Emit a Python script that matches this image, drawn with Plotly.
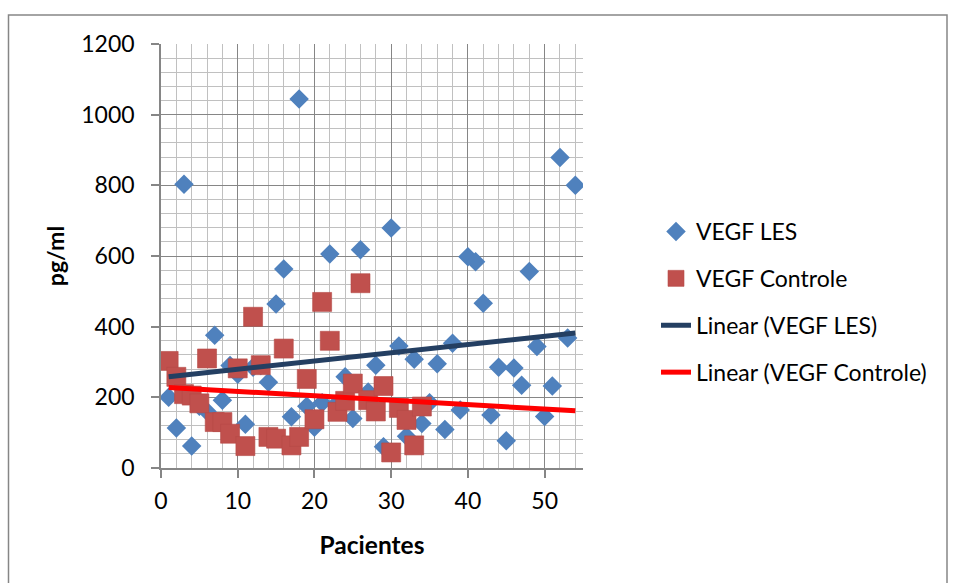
import numpy as np
import plotly.graph_objects as go

# ---------------- data ----------------
les_patients = list(range(1, 55))
les_values = [200, 113, 803, 62, 175, 160, 376, 192, 290, 265,
              124, 285, 290, 243, 464, 563, 145, 1044, 175, 115,
              185, 606, 185, 258, 140, 618, 215, 291, 60, 679,
              345, 90, 308, 126, 185, 295, 109, 353, 164, 598,
              584, 466, 150, 285, 77, 283, 234, 556, 344, 146,
              232, 879, 368, 800]

ctrl_patients = list(range(1, 35))
ctrl_values = [303, 258, 209, 205, 183, 310, 130, 130, 97, 282,
               62, 428, 291, 88, 83, 338, 64, 88, 252, 138,
               470, 360, 159, 190, 239, 523, 192, 160, 232, 44,
               170, 136, 64, 174]

trend_range = [1, 54]
x_tickvals = [0, 10, 20, 30, 40, 50]
y_tickvals = [0, 200, 400, 600, 800, 1000, 1200]

# ---------------- layout geometry ----------------
W, H = 955, 583
L, R, T, B = 161, 372, 44, 115
PW, PH = W - L - R, H - T - B

def px_x(p):
    return (p - L) / PW

def px_y(p):
    return (H - B - p) / PH

FONT = "Lato"
AXIS_GRAY = "#868686"
MINOR_GRAY = "#C0C0C0"

les_fit = np.polyfit(les_patients, les_values, 1)
ctrl_fit = np.polyfit(ctrl_patients, ctrl_values, 1)

fig = go.Figure()
fig.add_trace(go.Scatter(
    x=les_patients, y=les_values, mode="markers", name="VEGF LES",
    legendgroup="a",
    marker=dict(symbol="diamond", size=15, color="#4F81BD", line=dict(width=0)),
))
fig.add_trace(go.Scatter(
    x=ctrl_patients, y=ctrl_values, mode="markers", name="VEGF Controle",
    legendgroup="b",
    marker=dict(symbol="square", size=19, color="#C0504D",
                line=dict(width=0.6, color="#B54A47")),
))
fig.add_trace(go.Scatter(
    x=trend_range, y=list(np.polyval(les_fit, trend_range)), mode="lines",
    name="Linear (VEGF LES)", legendgroup="c",
    line=dict(color="#243F62", width=5),
))
fig.add_trace(go.Scatter(
    x=trend_range, y=list(np.polyval(ctrl_fit, trend_range)), mode="lines",
    name="Linear (VEGF Controle)", legendgroup="d",
    line=dict(color="#FF0000", width=5),
))

fig.update_layout(
    width=W, height=H,
    margin=dict(l=L, r=R, t=T, b=B, pad=0),
    paper_bgcolor="white", plot_bgcolor="white",
    font=dict(family=FONT, size=23, color="black"),
    showlegend=True,
    legend=dict(
        x=px_x(656), y=px_y(210), xanchor="left", yanchor="top",
        font=dict(family=FONT, size=23, color="black"),
        traceorder="grouped", tracegroupgap=14,
        bgcolor="rgba(0,0,0,0)",
    ),
    shapes=[dict(
        type="rect", xref="paper", yref="paper",
        x0=px_x(8.5), x1=px_x(947), y0=px_y(600), y1=px_y(15),
        line=dict(color=AXIS_GRAY, width=1.5), fillcolor="rgba(0,0,0,0)",
        layer="below",
    )],
)

fig.update_xaxes(
    range=[0, 55], tickvals=x_tickvals, ticktext=[str(v) for v in x_tickvals],
    showgrid=True, gridcolor=AXIS_GRAY, gridwidth=1.3,
    minor=dict(dtick=2, tick0=0, showgrid=True, gridcolor=MINOR_GRAY, gridwidth=1.3),
    showline=True, linecolor=AXIS_GRAY, linewidth=1.5,
    ticks="outside", ticklen=8, tickcolor=AXIS_GRAY, tickwidth=1.5,
    zeroline=False, ticklabelstandoff=4,
    tickfont=dict(family=FONT, size=23, color="black"),
    title=dict(text="<b>Pacientes</b>", font=dict(family=FONT, size=24.5, color="black"), standoff=24),
)
fig.update_yaxes(
    range=[0, 1200], tickvals=y_tickvals, ticktext=[str(v) for v in y_tickvals],
    showgrid=True, gridcolor=AXIS_GRAY, gridwidth=1.3,
    minor=dict(dtick=40, tick0=0, showgrid=True, gridcolor=MINOR_GRAY, gridwidth=1.3),
    showline=True, linecolor=AXIS_GRAY, linewidth=1.5,
    ticks="outside", ticklen=8, tickcolor=AXIS_GRAY, tickwidth=1.5,
    zeroline=False, ticklabelstandoff=12,
    tickfont=dict(family=FONT, size=23, color="black"),
    title=dict(text="<b>pg/ml</b>", font=dict(family=FONT, size=23, color="black"), standoff=10),
)

fig.write_html("out.html")
